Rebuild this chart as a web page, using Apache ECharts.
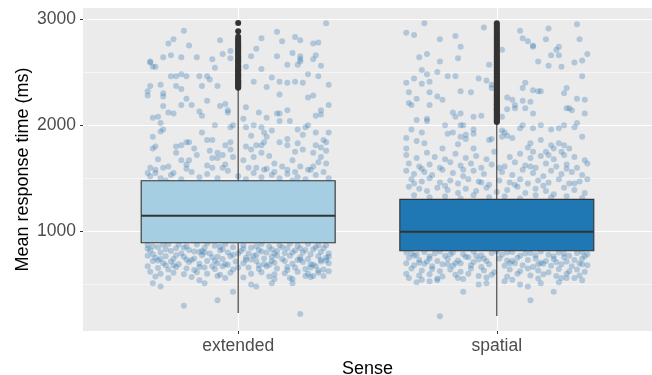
<!DOCTYPE html>
<html>
<head>
<meta charset="utf-8">
<script src="https://cdn.jsdelivr.net/npm/echarts@6/dist/echarts.min.js"></script>
<style>
  html, body { margin: 0; padding: 0; background: #fff; }
  #chart { width: 652px; height: 375px; }
</style>
</head>
<body>
<div id="chart"></div>
<script>
// categories and box statistics (ms)
const categories = ['extended', 'spatial'];
const boxMin = [231, 202];
const boxQ1 = [893, 817];
const boxMedian = [1147, 996];
const boxQ3 = [1476, 1301];
const boxMax = [2340, 2027];

const yTicks = [1000, 2000, 3000];
const yMinorTicks = [500, 1500, 2500];

// outliers drawn by the box layer
const extendedOutliers = [2352, 2361, 2374, 2383, 2391, 2402, 2414, 2422, 2437, 2448, 2456, 2469, 2478, 2491,
  2503, 2517, 2528, 2540, 2556, 2567, 2585, 2601, 2612, 2630, 2646, 2663, 2681, 2694, 2712, 2728, 2741,
  2760, 2777, 2795, 2812, 2834, 2886, 2962];
const spatialOutliers = [2031, 2040, 2052, 2061, 2070, 2083, 2095, 2104, 2117, 2126, 2138, 2149, 2160, 2172,
  2185, 2196, 2208, 2219, 2231, 2244, 2256, 2268, 2279, 2291, 2305, 2316, 2330, 2342, 2355, 2368, 2381,
  2394, 2407, 2420, 2434, 2447, 2461, 2475, 2488, 2502, 2516, 2530, 2544, 2559, 2573, 2588, 2603, 2618,
  2633, 2648, 2664, 2679, 2695, 2711, 2727, 2743, 2760, 2776, 2793, 2810, 2828, 2846, 2864, 2883, 2902,
  2921, 2941, 2960];

// jittered points: [offset from category centre, value]
const extendedJitter = [
  [-0.21,2890],[-0.25,2810],[-0.27,2770],[-0.19,2750],[-0.07,2800],[0.09,2820],[0.15,2880],[0.17,2790],
  [0.22,2830],[0.24,2800],[0.29,2770],[0.31,2780],[0.34,2960],[-0.34,2600],[-0.33,2550],[-0.29,2640],
  [-0.26,2660],[-0.22,2640],[-0.16,2640],[-0.10,2620],[-0.06,2670],[-0.03,2700],[-0.03,2630],[0.05,2650],
  [0.07,2720],[0.15,2650],[0.21,2680],[0.24,2620],[0.24,2650],[0.29,2620],[0.30,2660],
  [-0.34,2590],[-0.32,2550],[-0.26,2460],[-0.24,2460],[-0.22,2480],[-0.20,2460],[-0.15,2460],[-0.12,2460],
  [-0.09,2540],[-0.34,2370],[-0.35,2320],[-0.35,2280],[-0.30,2380],[-0.29,2300],[-0.29,2270],[-0.24,2370],
  [-0.22,2340],[-0.20,2250],[-0.22,2190],[-0.18,2190],[-0.14,2370],[-0.11,2430],[-0.08,2370],[-0.12,2230],
  [-0.15,2130],[-0.14,2090],[-0.29,2180],[-0.27,2120],[-0.25,2110],[-0.33,2070],[-0.31,2080],[-0.30,2020],
  [-0.29,1960],[-0.30,1940],[-0.33,1890],[-0.33,1780],[-0.32,1800],[-0.31,1680],[-0.34,1600],[-0.35,1550],
  [-0.32,1550],[-0.29,1600],[-0.27,1610],[-0.25,1550],[-0.24,1740],[-0.24,1800],[-0.22,1810],[-0.20,1840],
  [-0.19,1840],[-0.17,1780],[-0.14,1930],[-0.12,1860],[-0.10,1860],[-0.11,1760],[-0.08,1740],[-0.08,1690],
  [-0.10,1690],[-0.10,1600],[-0.12,1620],[-0.16,1720],[-0.19,1670],[-0.20,1630],[-0.22,1670],[-0.07,2180],
  [-0.05,2200],[-0.04,2140],[-0.04,2120],[-0.03,1980],[-0.02,2000],[-0.03,1840],[-0.03,1770],[-0.02,1700],
  [-0.05,1810],[-0.06,1720],[-0.05,1630],[-0.09,2000],
  [0.03,2550],[0.09,2530],[0.13,2450],[0.19,2570],[0.23,2570],[0.24,2600],[0.32,2560],[0.06,2410],
  [0.11,2360],[0.16,2410],[0.16,2290],[0.19,2400],[0.22,2410],[0.25,2400],[0.27,2480],[0.31,2460],
  [0.35,2380],[0.27,2260],[0.29,2280],[0.32,2140],[0.32,2100],[0.30,2090],[0.35,2190],[0.03,2170],
  [0.08,2120],[0.11,2070],[0.15,2110],[0.16,2110],[0.19,2140],[0.20,2040],[0.16,2040],[0.06,2000],
  [0.09,1980],[0.03,1980],[0.02,2060],[0.10,1930],[0.13,1950],[0.11,1890],[0.05,1900],[0.07,1810],
  [0.09,1810],[0.10,1840],[0.16,1840],[0.19,1870],[0.23,1960],[0.26,1980],[0.27,2000],[0.30,1930],
  [0.35,1930],[0.33,1860],[0.32,1790],[0.34,1840],[0.30,1810],[0.25,1910],[0.23,1830],[0.19,1810],
  [0.22,1750],[0.25,1770],[0.29,1740],[0.32,1700],[0.34,1760],[0.31,1650],[0.34,1640],[0.29,1610],
  [0.27,1580],[0.24,1610],[0.21,1670],[0.17,1610],[0.14,1640],[0.12,1710],[0.09,1740],[0.06,1700],
  [0.05,1770],[0.03,1800],[0.02,1670],[0.04,1600],[0.07,1600],[0.10,1580],[0.14,1560],[0.19,1580],
  [0.22,1560],
  [-0.34,1520],[-0.30,1500],[-0.26,1530],[-0.22,1490],[-0.18,1560],[-0.15,1510],[-0.12,1540],[-0.08,1500],
  [-0.04,1570],[0.00,1520],[0.03,1490],[0.06,1550],[0.09,1510],[0.13,1530],[0.16,1500],[0.19,1540],
  [0.23,1510],[0.26,1490],[0.30,1530],[0.33,1560],[0.35,1500],[-0.32,1580],[-0.20,1590],[-0.06,1600],
  [0.11,1590],[0.28,1580],[-0.28,1480],[0.21,1480],
  [-0.35,870],[-0.31,850],[-0.27,880],[-0.24,840],[-0.20,860],[-0.16,875],[-0.13,845],[-0.09,865],
  [-0.05,880],[-0.02,850],[0.02,870],[0.05,845],[0.09,880],[0.12,855],[0.16,870],[0.19,840],
  [0.23,865],[0.27,880],[0.30,850],[0.34,870],
  [-0.34,820],[-0.30,800],[-0.26,815],[-0.22,790],[-0.19,825],[-0.15,805],[-0.11,790],[-0.07,820],
  [-0.04,800],[0.01,815],[0.04,790],[0.08,825],[0.11,800],[0.15,815],[0.18,795],[0.22,820],
  [0.25,800],[0.29,830],[0.32,805],[0.35,790],
  [-0.35,770],[-0.32,750],[-0.28,765],[-0.25,740],[-0.21,760],[-0.17,745],[-0.14,775],[-0.10,755],
  [-0.06,740],[-0.03,765],[0.03,750],[0.06,770],[0.10,745],[0.13,760],[0.17,740],[0.20,770],
  [0.24,755],[0.27,740],[0.31,765],[0.34,750],
  [-0.33,720],[-0.29,700],[-0.26,715],[-0.23,690],[-0.19,710],[-0.15,695],[-0.12,720],[-0.08,700],
  [-0.05,690],[-0.01,715],[0.02,700],[0.07,720],[0.10,690],[0.14,705],[0.18,720],[0.21,695],
  [0.25,710],[0.28,690],[0.32,715],[0.35,700],
  [-0.35,670],[-0.31,655],[-0.27,640],[-0.24,665],[-0.20,650],[-0.17,635],[-0.13,660],[-0.09,645],
  [-0.06,670],[-0.02,640],[0.04,660],[0.08,645],[0.11,670],[0.15,650],[0.19,635],[0.22,660],
  [0.26,645],[0.30,670],[0.33,640],
  [-0.34,620],[-0.30,600],[-0.25,610],[-0.21,595],[-0.16,615],[-0.12,600],[-0.07,590],[-0.03,610],
  [0.05,600],[0.09,615],[0.14,595],[0.18,605],[0.23,620],[0.27,600],[0.31,610],[0.35,625],
  [-0.32,575],[-0.27,560],[-0.18,570],[-0.08,580],[0.02,565],[0.12,575],[0.20,560],[0.28,570],[0.33,580],
  [-0.21,300],[-0.08,350],[-0.02,430],[0.24,220],[-0.33,510],[-0.30,480],[-0.15,540],[-0.13,510],
  [-0.05,560],[0.05,500],[0.07,480],[0.13,510],[0.14,550],[0.21,550],[0.21,510],[0.26,580],
  [0.29,580],[0.31,630],
  [-0.33,860],[-0.28,830],[-0.23,875],[-0.17,810],[-0.12,885],[-0.06,830],[0.00,790],[0.07,860],
  [0.13,830],[0.20,885],[0.26,825],[0.33,840],[-0.30,740],[-0.18,730],[-0.08,760],[0.05,735],
  [0.15,770],[0.23,730],[0.32,730],[-0.25,680],[-0.10,670],[0.00,660],[0.12,685],[0.28,660],
  [-0.35,835],[-0.29,875],[-0.21,845],[-0.14,815],[-0.07,855],[0.02,835],[0.09,810],[0.17,850],
  [0.24,840],[0.31,870],[-0.33,785],[-0.24,775],[-0.13,800],[-0.02,780],[0.07,775],[0.14,790],
  [0.21,800],[0.28,785],[0.35,760],[-0.31,725],[-0.20,735],[-0.09,720],[0.03,730],[0.13,720],
  [0.24,735],[0.34,725],[-0.28,680],[-0.15,665],[-0.04,685],[0.08,680],[0.19,665],[0.29,685]
];

const spatialJitter = [
  [-0.28,2960],[-0.35,2870],[-0.32,2850],[-0.22,2810],[-0.16,2840],[-0.05,2920],[0.09,2890],[0.10,2820],
  [0.12,2790],[0.14,2750],[0.20,2910],[0.19,2810],[0.31,2950],[0.32,2810],
  [-0.30,2640],[-0.27,2670],[-0.22,2600],[-0.15,2630],[-0.14,2740],[0.02,2710],[0.14,2740],[0.16,2600],
  [0.21,2660],[0.23,2710],[0.24,2660],[0.24,2740],[0.25,2550],[0.20,2560],[0.30,2590],[0.33,2610],
  [0.35,2670],[-0.29,2520],[-0.27,2480],[-0.26,2410],[-0.32,2440],[-0.35,2400],[-0.29,2390],[-0.23,2500],
  [-0.19,2460],[-0.16,2460],[-0.07,2440],[-0.04,2420],[-0.03,2570],[-0.02,2380],[-0.34,2310],[-0.31,2250],
  [-0.34,2210],[-0.33,2190],[-0.26,2190],[-0.26,2310],[-0.23,2270],[-0.21,2240],[-0.14,2320],[-0.10,2310],
  [-0.02,2350],[0.11,2400],[0.10,2350],[0.14,2330],[0.16,2320],[0.17,2320],[0.27,2350],[0.26,2300],
  [0.31,2250],[0.33,2460],[0.34,2240],[0.04,2260],[0.06,2240],[0.07,2190],[0.07,2160],[0.10,2230],
  [0.13,2220],[0.11,2160],[0.14,2110],[0.04,2150],[0.02,2080],[0.27,2160],[0.28,2160],[0.29,2140],
  [0.34,2110],[-0.27,2060],[-0.27,2040],[-0.31,2050],[-0.17,2120],[-0.14,2110],[-0.16,2080],[-0.09,2080],
  [-0.06,2090],[-0.20,2000],[-0.14,2000],[-0.13,2000],[-0.09,1960],[-0.33,1960],[-0.29,1930],[-0.35,1880],
  [-0.31,1850],[-0.28,1830],[-0.35,1780],[-0.19,1920],[-0.17,1930],[-0.14,1890],[-0.12,1910],[-0.09,1920],
  [-0.09,1780],[-0.12,1870],[-0.03,1860],[-0.02,1870],[-0.15,1820],[-0.21,1780],[0.02,1950],[0.03,1930],
  [0.04,1900],[0.06,1880],[0.02,1890],[0.09,1970],[0.10,2000],[0.14,1970],[0.17,2000],[0.21,1960],
  [0.24,1970],[0.26,2000],[0.30,1980],[0.31,2020],[0.33,1890],[0.17,1860],[0.13,1830],[0.12,1790],
  [0.21,1810],[0.22,1780],[0.24,1830],[0.26,1810],[0.28,1780],[0.25,1750],[0.19,1750],[0.20,1720],
  [0.14,1750],[-0.01,1750],
  [-0.35,1720],[-0.31,1690],[-0.27,1740],[-0.24,1700],[-0.20,1680],[-0.16,1730],[-0.12,1690],[-0.08,1710],
  [-0.04,1680],[0.05,1700],[0.09,1730],[0.13,1690],[0.17,1710],[0.22,1680],[0.26,1720],[0.30,1700],
  [0.34,1670],
  [-0.34,1640],[-0.30,1610],[-0.26,1630],[-0.22,1600],[-0.18,1650],[-0.14,1620],[-0.10,1640],[-0.06,1600],
  [-0.02,1630],[0.03,1610],[0.07,1650],[0.11,1620],[0.15,1600],[0.19,1640],[0.23,1610],[0.27,1630],
  [0.31,1600],[0.35,1640],
  [-0.35,1570],[-0.32,1540],[-0.28,1560],[-0.25,1530],[-0.21,1580],[-0.17,1550],[-0.13,1520],[-0.09,1570],
  [-0.05,1540],[0.02,1560],[0.06,1530],[0.10,1580],[0.14,1550],[0.18,1520],[0.21,1570],[0.25,1540],
  [0.29,1560],[0.33,1530],
  [-0.33,1490],[-0.29,1470],[-0.26,1500],[-0.22,1460],[-0.18,1480],[-0.15,1450],[-0.11,1490],[-0.07,1470],
  [-0.03,1440],[0.01,1480],[0.05,1460],[0.09,1490],[0.12,1450],[0.16,1480],[0.20,1460],[0.24,1490],
  [0.28,1450],[0.32,1470],[0.35,1490],
  [-0.34,1420],[-0.30,1400],[-0.27,1380],[-0.23,1410],[-0.19,1390],[-0.15,1360],[-0.12,1400],[-0.08,1380],
  [-0.04,1410],[0.00,1370],[0.04,1390],[0.08,1420],[0.11,1360],[0.15,1400],[0.19,1380],[0.22,1350],
  [0.26,1410],[0.30,1390],[0.34,1360],
  [-0.32,1340],[-0.26,1320],[-0.20,1330],[-0.14,1310],[-0.09,1340],[-0.03,1320],[0.03,1330],[0.09,1310],
  [0.15,1340],[0.21,1320],[0.27,1330],[0.33,1315],
  [-0.35,800],[-0.31,780],[-0.28,805],[-0.24,790],[-0.20,770],[-0.17,800],[-0.13,785],[-0.09,810],
  [-0.06,775],[-0.02,795],[0.02,780],[0.06,805],[0.09,770],[0.13,795],[0.17,810],[0.20,780],
  [0.24,800],[0.28,770],[0.31,795],[0.35,785],
  [-0.34,750],[-0.30,730],[-0.26,745],[-0.23,720],[-0.19,740],[-0.15,725],[-0.11,755],[-0.07,735],
  [-0.04,720],[0.01,745],[0.04,725],[0.08,750],[0.12,730],[0.15,745],[0.19,720],[0.22,740],
  [0.26,755],[0.30,730],[0.33,745],
  [-0.35,700],[-0.32,680],[-0.28,695],[-0.25,670],[-0.21,690],[-0.17,675],[-0.14,700],[-0.10,680],
  [-0.06,665],[-0.03,690],[0.03,675],[0.07,700],[0.10,680],[0.14,665],[0.18,695],[0.21,675],
  [0.25,690],[0.29,670],[0.32,700],[0.35,680],
  [-0.33,650],[-0.29,630],[-0.25,645],[-0.22,625],[-0.18,640],[-0.14,620],[-0.10,650],[-0.05,630],
  [-0.01,615],[0.05,640],[0.09,625],[0.12,650],[0.16,630],[0.20,615],[0.24,645],[0.28,625],
  [0.31,640],[0.34,620],
  [-0.35,600],[-0.30,585],[-0.26,595],[-0.21,575],[-0.16,590],[-0.11,600],[-0.07,580],[-0.02,590],
  [0.04,575],[0.08,600],[0.13,585],[0.18,595],[0.23,580],[0.27,600],[0.32,585],
  [-0.34,560],[-0.29,545],[-0.23,555],[-0.13,550],[-0.04,565],[0.06,545],[0.16,555],[0.25,560],[0.33,540],
  [-0.22,200],[-0.13,430],[0.13,350],[0.22,430],[-0.07,500],[-0.04,510],[0.09,500],[0.12,480],
  [0.17,510],[0.24,520],[-0.31,520],[-0.26,530],[-0.23,540],[-0.15,560],[0.03,530],[0.27,560],[0.30,560],
  [-0.32,770],[-0.22,810],[-0.12,760],[0.00,810],[0.11,790],[0.22,765],[0.33,805],[-0.27,715],
  [-0.16,700],[-0.05,745],[0.06,720],[0.17,705],[0.27,715],
  [-0.33,790],[-0.26,765],[-0.18,785],[-0.08,770],[0.04,800],[0.15,775],[0.26,790],[0.34,765],
  [-0.30,705],[-0.19,690],[-0.09,710],[0.05,700],[0.16,690],[0.23,710],[0.33,690],
  [-0.32,1450],[-0.20,1430],[-0.06,1460],[0.07,1440],[0.18,1430],[0.30,1450],
  [-0.29,1590],[-0.13,1580],[0.01,1600],[0.13,1610],[0.27,1590]
];

const jitterPoints = [];
extendedJitter.forEach(p => jitterPoints.push([1 + p[0], p[1]]));
spatialJitter.forEach(p => jitterPoints.push([2 + p[0], p[1]]));

const outlierPoints = [];
extendedOutliers.forEach(v => outlierPoints.push([1, v]));
spatialOutliers.forEach(v => outlierPoints.push([2, v]));

const boxData = categories.map((c, i) => [i + 1, boxMin[i], boxQ1[i], boxMedian[i], boxQ3[i], boxMax[i]]);
const boxFill = ['#A6CEE3', '#1F78B4'];

const chart = echarts.init(document.getElementById('chart'));
const font = '"Liberation Sans", Arial, Helvetica, sans-serif';

const yBase = {
  type: 'value',
  min: 61,
  max: 3104,
  axisLine: { show: false }
};

chart.setOption({
  animation: false,
  textStyle: { fontFamily: font },
  grid: {
    left: 83, right: 0, top: 8, bottom: 44,
    outerBoundsMode: 'none',
    show: true, backgroundColor: '#EBEBEB', borderWidth: 0
  },
  xAxis: {
    type: 'value',
    min: 0.4,
    max: 2.6,
    name: 'Sense',
    nameLocation: 'middle',
    nameGap: 22,
    nameTextStyle: { color: '#000', fontSize: 18, fontFamily: font, verticalAlign: 'top' },
    axisLine: { show: false },
    axisTick: { show: true, customValues: [1, 2], length: 3, lineStyle: { color: '#333', width: 1 } },
    axisLabel: {
      customValues: [1, 2],
      formatter: v => categories[Math.round(v) - 1] || '',
      color: '#4D4D4D', fontSize: 17.5, fontFamily: font, margin: 6
    },
    splitLine: { show: true, lineStyle: { color: '#FFFFFF', width: 1.1 } }
  },
  yAxis: [
    Object.assign({}, yBase, {
      name: 'Mean response time (ms)',
      nameLocation: 'middle',
      nameGap: 51,
      nameMoveOverlap: false,
      nameTextStyle: { color: '#000', fontSize: 18, fontFamily: font },
      axisTick: { show: true, customValues: yTicks, length: 3, lineStyle: { color: '#333', width: 1 } },
      axisLabel: {
        customValues: yTicks, formatter: v => String(v),
        color: '#4D4D4D', fontSize: 17.5, fontFamily: font, margin: 7
      },
      splitLine: { show: true, lineStyle: { color: '#FFFFFF', width: 1.1 } }
    }),
    Object.assign({}, yBase, {
      axisTick: { show: false, customValues: yMinorTicks },
      axisLabel: { show: false, customValues: yMinorTicks },
      splitLine: { show: true, lineStyle: { color: '#FFFFFF', width: 0.55 } }
    })
  ],
  series: [
    {
      type: 'scatter',
      data: jitterPoints,
      symbolSize: 6,
      z: 2,
      silent: true,
      itemStyle: { color: '#2A74B0', opacity: 0.3 }
    },
    {
      type: 'custom',
      data: boxData,
      z: 3,
      silent: true,
      renderItem: function (params, api) {
        const x = api.value(0);
        const pMin = api.coord([x, api.value(1)]);
        const pQ1 = api.coord([x, api.value(2)]);
        const pMed = api.coord([x, api.value(3)]);
        const pQ3 = api.coord([x, api.value(4)]);
        const pMax = api.coord([x, api.value(5)]);
        const half = api.size([0.75, 0])[0] / 2;
        const line = { stroke: '#333333', lineWidth: 1.1 };
        return {
          type: 'group',
          children: [
            { type: 'line', shape: { x1: pMin[0], y1: pMin[1], x2: pQ1[0], y2: pQ1[1] }, style: line },
            { type: 'line', shape: { x1: pQ3[0], y1: pQ3[1], x2: pMax[0], y2: pMax[1] }, style: line },
            {
              type: 'rect',
              shape: { x: pQ3[0] - half, y: pQ3[1], width: half * 2, height: pQ1[1] - pQ3[1] },
              style: { fill: boxFill[params.dataIndex], stroke: '#333333', lineWidth: 1.1 }
            },
            {
              type: 'line',
              shape: { x1: pMed[0] - half, y1: pMed[1], x2: pMed[0] + half, y2: pMed[1] },
              style: { stroke: '#333333', lineWidth: 2.2 }
            }
          ]
        };
      }
    },
    {
      type: 'scatter',
      data: outlierPoints,
      symbolSize: 6,
      z: 4,
      silent: true,
      itemStyle: { color: '#333333', opacity: 1 }
    }
  ]
});
</script>
</body>
</html>
